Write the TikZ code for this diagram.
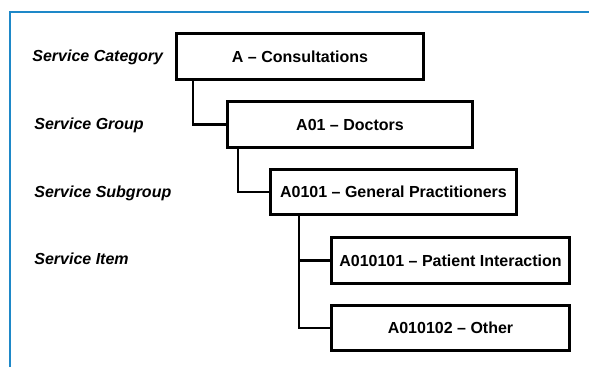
\documentclass[tikz,border=0pt]{standalone}
\usepackage{fontspec}
\setmainfont{Liberation Sans}
\usepackage{tikz}
\usetikzlibrary{calc}
\usetikzlibrary{positioning}

\definecolor{framecol}{RGB}{30,136,200}

\begin{document}
\begin{tikzpicture}[x=1pt, y=-1pt,
		    level/.style={draw, rectangle, line width=2.8pt, minimum height=45.5pt,
			   inner sep=0pt, font=\fontsize{16}{19}\selectfont\bfseries},
		    tag/.style={anchor=west, inner sep=0pt,
			   font=\fontsize{16}{19}\selectfont\bfseries\itshape},
		    every path/.style={line width=2.8pt}]
 \useasboundingbox (0,0) rectangle (589,367);
 \draw[framecol, line width=2.5pt] (10,367) -- (10,12) -- (589,12);

 \node [level, minimum width=247pt] (cat) at (300,56.5) {A -- Consultations};
 \node [level, minimum width=245pt] (grp) at (350,124.5) {A01 -- Doctors};
 \node [level, minimum width=246pt] (sub) at (393.5,192) {A0101 -- General Practitioners};
 \node [level, minimum width=238pt] (pat) at (450.5,260.5) {A010101 -- Patient Interaction};
 \node [level, minimum width=238pt] (oth) at (450.5,328) {A010102 -- Other};

 \node [tag] (tcat) at (31,57) {Service Category};
 \node [tag] (tgrp) at (33,125) {Service Group};
 \node [tag] (tsub) at (33,193) {Service Subgroup};
 \node [tag] (titm) at (33,259) {Service Item};

 \draw ([xshift=-107pt]cat.south) |- (grp.west);
 \draw ([xshift=-112pt]grp.south) |- (sub.west);
 \draw ([xshift=-94.5pt]sub.south) |- (pat.west);
 \draw ([xshift=-94.5pt]sub.south) |- (oth.west);
\end{tikzpicture}
\end{document}
